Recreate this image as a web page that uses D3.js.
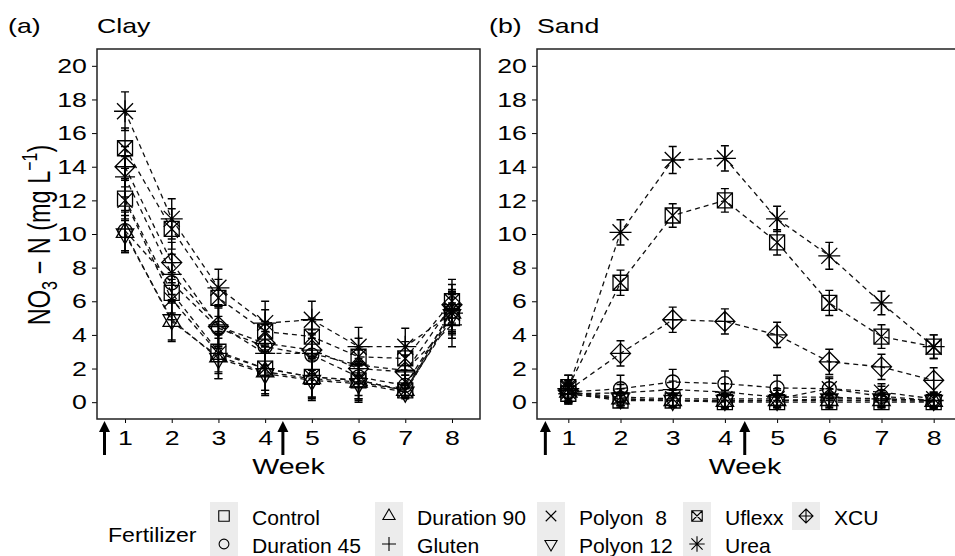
<!DOCTYPE html>
<html><head><meta charset="utf-8">
<script src="https://cdn.jsdelivr.net/npm/d3@7"></script>
<style>
html,body{margin:0;padding:0;background:#fff;}
text{font-family:"Liberation Sans",Arial,sans-serif;fill:#000;}
</style></head>
<body><svg id="chart" width="955" height="556"></svg>
<script>
// ---------- data ----------
const weeks = [1, 2, 3, 4, 5, 6, 7, 8];
const fertilizers = ["Control", "Duration 45", "Duration 90", "Gluten", "Polyon  8", "Polyon 12", "Uflexx", "Urea", "XCU"];
const shapes = ["square", "circle", "triUp", "plus", "cross", "triDown", "squareX", "asterisk", "diamondPlus"];
const yTicks = [0, 2, 4, 6, 8, 10, 12, 14, 16, 18, 20];
const arrowWeeks = [0.56, 4.38];

// Clay means (mg/L)
const clayControl   = [12.1, 6.5, 3.0, 2.0, 1.5, 1.3, 0.7, 5.0];
const clayDur45     = [10.2, 7.1, 4.4, 3.3, 2.8, 1.5, 1.0, 5.4];
const clayDur90     = [10.1, 4.8, 2.7, 1.8, 1.4, 1.2, 0.7, 5.3];
const clayGluten    = [13.4, 7.6, 4.6, 2.9, 2.9, 2.2, 1.9, 4.6];
const clayPolyon8   = [12.0, 6.1, 2.9, 2.0, 1.5, 1.3, 0.7, 5.5];
const clayPolyon12  = [10.0, 4.9, 2.6, 1.7, 1.3, 1.1, 0.6, 5.2];
const clayUflexx    = [15.1, 10.3, 6.2, 4.2, 3.9, 2.7, 2.6, 6.0];
const clayUrea      = [17.3, 10.9, 6.8, 4.7, 4.9, 3.3, 3.3, 5.3];
const clayXCU       = [14.0, 8.3, 4.5, 3.5, 3.1, 2.0, 1.8, 5.8];
// Clay standard errors
const clayControlSE  = [1.2, 1.2, 1.2, 1.3, 1.2, 1.1, 0.4, 1.2];
const clayDur45SE    = [1.2, 1.2, 1.2, 1.3, 1.2, 1.1, 0.6, 1.2];
const clayDur90SE    = [1.2, 1.2, 1.3, 1.3, 1.2, 1.1, 0.4, 1.2];
const clayGlutenSE   = [1.2, 1.2, 1.2, 1.3, 1.2, 1.1, 0.9, 1.3];
const clayPolyon8SE  = [1.2, 1.2, 1.2, 1.3, 1.2, 1.1, 0.4, 1.2];
const clayPolyon12SE = [1.1, 1.2, 1.2, 1.3, 1.2, 1.1, 0.4, 1.2];
const clayUflexxSE   = [1.2, 1.2, 1.1, 1.3, 1.1, 1.1, 1.0, 1.3];
const clayUreaSE     = [1.15, 1.2, 1.1, 1.3, 1.1, 1.15, 1.1, 1.2];
const clayXCUSE      = [1.2, 1.2, 1.2, 1.3, 1.2, 1.1, 1.0, 1.2];

// Sand means (mg/L)
const sandControl   = [0.5, 0.1, 0.1, 0.0, 0.0, 0.0, 0.0, 0.0];
const sandDur45     = [0.6, 0.8, 1.2, 1.1, 0.85, 0.8, 0.35, 0.1];
const sandDur90     = [0.6, 0.2, 0.1, 0.05, 0.1, 0.1, 0.1, 0.05];
const sandGluten    = [0.5, 0.55, 0.75, 0.6, 0.3, 0.3, 0.2, 0.1];
const sandPolyon8   = [0.6, 0.3, 0.2, 0.2, 0.2, 0.8, 0.6, 0.2];
const sandPolyon12  = [0.5, 0.2, 0.1, 0.1, 0.1, 0.2, 0.2, 0.1];
const sandUflexx    = [0.9, 7.1, 11.1, 12.0, 9.5, 5.9, 3.9, 3.3];
const sandUrea      = [0.8, 10.1, 14.4, 14.5, 10.9, 8.7, 5.9, 3.3];
const sandXCU       = [0.7, 2.9, 4.9, 4.8, 4.0, 2.4, 2.1, 1.3];
// Sand standard errors
const sandControlSE  = [0.5, 0.4, 0.4, 0.4, 0.4, 0.4, 0.4, 0.4];
const sandDur45SE    = [0.7, 0.8, 0.75, 0.75, 0.75, 0.7, 0.6, 0.5];
const sandDur90SE    = [0.6, 0.4, 0.4, 0.4, 0.4, 0.4, 0.4, 0.4];
const sandGlutenSE   = [0.6, 0.5, 0.5, 0.5, 0.5, 0.5, 0.5, 0.4];
const sandPolyon8SE  = [0.6, 0.5, 0.5, 0.5, 0.5, 0.6, 0.5, 0.4];
const sandPolyon12SE = [0.6, 0.4, 0.4, 0.4, 0.4, 0.4, 0.4, 0.4];
const sandUflexxSE   = [0.7, 0.75, 0.7, 0.7, 0.75, 0.75, 0.7, 0.7];
const sandUreaSE     = [0.8, 0.75, 0.8, 0.75, 0.75, 0.8, 0.7, 0.7];
const sandXCUSE      = [0.6, 0.75, 0.75, 0.75, 0.75, 0.75, 0.75, 0.75];

const clayMeans = [clayControl, clayDur45, clayDur90, clayGluten, clayPolyon8, clayPolyon12, clayUflexx, clayUrea, clayXCU];
const claySE = [clayControlSE, clayDur45SE, clayDur90SE, clayGlutenSE, clayPolyon8SE, clayPolyon12SE, clayUflexxSE, clayUreaSE, clayXCUSE];
const sandMeans = [sandControl, sandDur45, sandDur90, sandGluten, sandPolyon8, sandPolyon12, sandUflexx, sandUrea, sandXCU];
const sandSE = [sandControlSE, sandDur45SE, sandDur90SE, sandGlutenSE, sandPolyon8SE, sandPolyon12SE, sandUflexxSE, sandUreaSE, sandXCUSE];

// ---------- shapes ----------
function shapePath(type, k) {
  const f = v => (v * k).toFixed(2);
  const sq = h => `M${f(-h)},${f(-h)}H${f(h)}V${f(h)}H${f(-h)}Z`;
  const pl = h => `M${f(-h)},0H${f(h)}M0,${f(-h)}V${f(h)}`;
  const cr = h => `M${f(-h)},${f(-h)}L${f(h)},${f(h)}M${f(-h)},${f(h)}L${f(h)},${f(-h)}`;
  switch (type) {
    case "square": return sq(7.5);
    case "circle": { const r = 7; return `M${f(r)},0A${f(r)},${f(r)} 0 1,1 ${f(-r)},0A${f(r)},${f(r)} 0 1,1 ${f(r)},0Z`; }
    case "triUp": return `M0,${f(-10)}L${f(8.7)},${f(5)}L${f(-8.7)},${f(5)}Z`;
    case "triDown": return `M0,${f(10)}L${f(8.7)},${f(-5)}L${f(-8.7)},${f(-5)}Z`;
    case "plus": return pl(10);
    case "cross": return cr(7.5);
    case "squareX": return sq(7.5) + cr(7.5);
    case "asterisk": return pl(11) + cr(8);
    case "diamondPlus": return `M0,${f(-10)}L${f(10)},0L0,${f(10)}L${f(-10)},0Z` + pl(10);
  }
}

// ---------- drawing ----------
const svg = d3.select("#chart");
const FONT = 21;
const SX = 1.27; // horizontal stretch of the panel texts
const yTop = 49, yBot = 419;
const y = d3.scaleLinear().domain([-1, 21]).range([yBot, yTop]);

function sText(parent, x, yy, txt, opts) {
  const o = Object.assign({ size: FONT, sx: SX, anchor: "start" }, opts || {});
  return parent.append("text").attr("transform", `translate(${x},${yy}) scale(${o.sx},1)`)
    .attr("text-anchor", o.anchor).attr("font-size", o.size).text(txt);
}

function drawPanel(x0, x1, means, ses, tag, tagX, title, clipId) {
  const x = d3.scaleLinear().domain([0.4, 8.6]).range([x0, x1]);
  const g = svg.append("g");
  g.append("clipPath").attr("id", clipId).append("rect")
    .attr("x", x0).attr("y", yTop).attr("width", x1 - x0).attr("height", yBot - yTop);

  // titles
  sText(g, tagX, 33, tag);
  sText(g, x0, 33, title);

  // y axis
  const ya = g.append("g").attr("transform", `translate(${x0},0)`)
    .call(d3.axisLeft(y).tickValues(yTicks).tickSize(5).tickPadding(3).tickFormat(d3.format("d")));
  ya.select(".domain").remove();
  ya.selectAll("line").attr("stroke", "#000").attr("stroke-width", 1);
  ya.selectAll("text").attr("font-size", FONT).attr("font-family", "Liberation Sans, Arial, sans-serif")
    .attr("fill", "#000").attr("transform", `scale(${SX},1)`);

  // x axis
  const xa = g.append("g").attr("transform", `translate(0,${yBot})`)
    .call(d3.axisBottom(x).tickValues(weeks).tickSize(4).tickPadding(7).tickFormat(d3.format("d")));
  xa.select(".domain").remove();
  xa.selectAll("line").attr("stroke", "#000").attr("stroke-width", 1);
  xa.selectAll("text").attr("font-size", FONT).attr("font-family", "Liberation Sans, Arial, sans-serif")
    .attr("fill", "#000").attr("transform", `scale(${SX},1)`);

  sText(g, (x0 + Math.min(x1, 953)) / 2, 474, "Week", { anchor: "middle", size: 22, sx: 1.3 });

  // arrows
  arrowWeeks.forEach(w => {
    const ax = x(w);
    g.append("line").attr("x1", ax).attr("x2", ax).attr("y1", 430).attr("y2", 455)
      .attr("stroke", "#000").attr("stroke-width", 3);
    g.append("path").attr("d", `M${ax},421L${ax + 5.5},432L${ax - 5.5},432Z`).attr("fill", "#000");
  });

  const plot = g.append("g").attr("clip-path", `url(#${clipId})`);
  const line = d3.line().x((d, i) => x(weeks[i])).y(d => y(d));

  // dashed lines
  means.forEach(m => {
    plot.append("path").attr("d", line(m)).attr("fill", "none")
      .attr("stroke", "#111").attr("stroke-width", 1.3).attr("stroke-dasharray", "5,4");
  });
  // error bars
  means.forEach((m, si) => {
    m.forEach((v, i) => {
      const px = x(weeks[i]), lo = y(v - ses[si][i]), hi = y(v + ses[si][i]);
      plot.append("path").attr("d", `M${px},${lo}V${hi}M${px - 4},${lo}H${px + 4}M${px - 4},${hi}H${px + 4}`)
        .attr("stroke", "#000").attr("stroke-width", 1.4).attr("fill", "none");
    });
  });
  // points
  means.forEach((m, si) => {
    m.forEach((v, i) => {
      plot.append("path").attr("d", shapePath(shapes[si], 1))
        .attr("transform", `translate(${x(weeks[i])},${y(v)})`)
        .attr("fill", "none").attr("stroke", "#000").attr("stroke-width", 1.3);
    });
  });

  // border
  g.append("rect").attr("x", x0).attr("y", yTop).attr("width", x1 - x0).attr("height", yBot - yTop)
    .attr("fill", "none").attr("stroke", "#222").attr("stroke-width", 1.5);
}

drawPanel(97, 480, clayMeans, claySE, "(a)", 8, "Clay", "clipA");
drawPanel(537, 965, sandMeans, sandSE, "(b)", 489, "Sand", "clipB");

// y axis title
const yt = svg.append("text").attr("transform", "translate(50,235) scale(1.33,1) rotate(-90)")
  .attr("text-anchor", "middle").attr("font-size", 23.5);
yt.append("tspan").text("NO");
yt.append("tspan").attr("dy", 5).attr("font-size", 16).text("3");
yt.append("tspan").attr("dy", -5).text(" \u2212 N (mg L");
yt.append("tspan").attr("dy", -10).attr("font-size", 16).text("\u22121");
yt.append("tspan").attr("dy", 10).text(")");

// legend
sText(svg, 108, 542, "Fertilizer", { size: 21, sx: 1.1 });
const legCols = [210, 375, 537, 683, 792];
const legRows = [502, 530];
fertilizers.forEach((name, i) => {
  const col = Math.floor(i / 2), row = i % 2;
  const kx = legCols[col], ky = legRows[row];
  svg.append("rect").attr("x", kx).attr("y", ky).attr("width", 28).attr("height", 28).attr("fill", "#ececec");
  svg.append("path").attr("d", shapePath(shapes[i], 0.7))
    .attr("transform", `translate(${kx + 14},${ky + 14})`)
    .attr("fill", "none").attr("stroke", "#000").attr("stroke-width", 1.1);
  sText(svg, kx + 42, ky + 23, name, { size: 20.5, sx: 1.03 }).style("white-space", "pre");
});
</script></body></html>
